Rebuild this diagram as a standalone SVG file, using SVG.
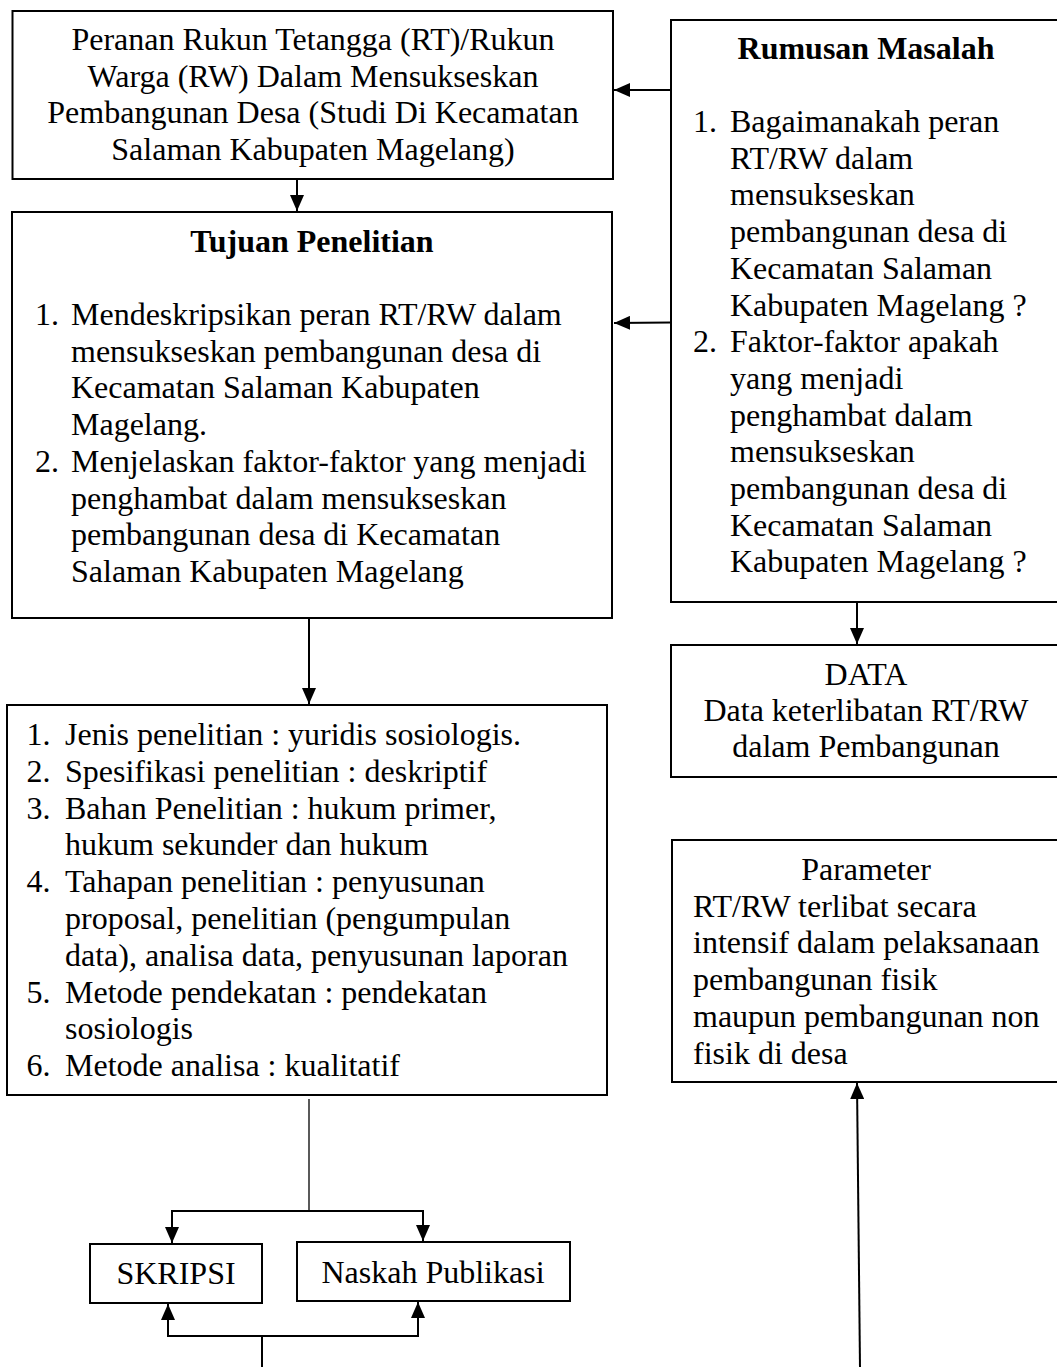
<svg xmlns="http://www.w3.org/2000/svg" width="1057" height="1367" viewBox="0 0 1057 1367">
<defs>
<style>
.box{fill:#fff;stroke:#000;stroke-width:2}
.t{font-family:"Liberation Serif","Times New Roman",serif;font-size:32px;fill:#000}
.c{text-anchor:middle}
.b{font-weight:bold}
.ln{fill:none;stroke:#000;stroke-width:2}
.thin{fill:none;stroke:#000;stroke-width:1.3}
</style>
<marker id="ah" markerUnits="userSpaceOnUse" markerWidth="16" markerHeight="14" refX="16" refY="7" orient="auto">
<path d="M0,0 L16,7 L0,14 z" fill="#000"/>
</marker>
</defs>
<rect width="1057" height="1367" fill="#fff"/>

<g id="judul">
<rect class="box" x="12.5" y="11" width="600.5" height="168"/>
<text class="t c" x="313" y="50">Peranan Rukun Tetangga (RT)/Rukun</text>
<text class="t c" x="313" y="86.5">Warga (RW) Dalam Mensukseskan</text>
<text class="t c" x="313" y="123">Pembangunan Desa (Studi Di Kecamatan</text>
<text class="t c" x="313" y="159.5">Salaman Kabupaten Magelang)</text>
</g>

<g id="tujuan">
<rect class="box" x="12" y="212" width="600" height="406"/>
<text class="t c b" x="312" y="252">Tujuan Penelitian</text>
<text class="t" x="35" y="325">1.</text>
<text class="t" x="71" y="325">Mendeskripsikan peran RT/RW dalam</text>
<text class="t" x="71" y="361.7">mensukseskan pembangunan desa di</text>
<text class="t" x="71" y="398.4">Kecamatan Salaman Kabupaten</text>
<text class="t" x="71" y="435.1">Magelang.</text>
<text class="t" x="35" y="471.8">2.</text>
<text class="t" x="71" y="471.8">Menjelaskan faktor-faktor yang menjadi</text>
<text class="t" x="71" y="508.5">penghambat dalam mensukseskan</text>
<text class="t" x="71" y="545.2">pembangunan desa di Kecamatan</text>
<text class="t" x="71" y="581.9">Salaman Kabupaten Magelang</text>
</g>

<g id="rumusan">
<rect class="box" x="671" y="20" width="392" height="582"/>
<text class="t c b" x="866" y="59">Rumusan Masalah</text>
<text class="t" x="693" y="132">1.</text>
<text class="t" x="730" y="132">Bagaimanakah peran</text>
<text class="t" x="730" y="168.7">RT/RW dalam</text>
<text class="t" x="730" y="205.4">mensukseskan</text>
<text class="t" x="730" y="242.1">pembangunan desa di</text>
<text class="t" x="730" y="278.8">Kecamatan Salaman</text>
<text class="t" x="730" y="315.5">Kabupaten Magelang ?</text>
<text class="t" x="693" y="352.2">2.</text>
<text class="t" x="730" y="352.2">Faktor-faktor apakah</text>
<text class="t" x="730" y="388.9">yang menjadi</text>
<text class="t" x="730" y="425.6">penghambat dalam</text>
<text class="t" x="730" y="462.3">mensukseskan</text>
<text class="t" x="730" y="499">pembangunan desa di</text>
<text class="t" x="730" y="535.7">Kecamatan Salaman</text>
<text class="t" x="730" y="572.4">Kabupaten Magelang ?</text>
</g>

<g id="data">
<rect class="box" x="671" y="645" width="392" height="132"/>
<text class="t c" x="866" y="685">DATA</text>
<text class="t c" x="866" y="721">Data keterlibatan RT/RW</text>
<text class="t c" x="866" y="757">dalam Pembangunan</text>
</g>

<g id="metode">
<rect class="box" x="7" y="705" width="600" height="390"/>
<text class="t" x="26.5" y="745">1.</text>
<text class="t" x="65" y="745">Jenis penelitian : yuridis sosiologis.</text>
<text class="t" x="26.5" y="781.8">2.</text>
<text class="t" x="65" y="781.8">Spesifikasi penelitian : deskriptif</text>
<text class="t" x="26.5" y="818.6">3.</text>
<text class="t" x="65" y="818.6">Bahan Penelitian : hukum primer,</text>
<text class="t" x="65" y="855.4">hukum sekunder dan hukum</text>
<text class="t" x="26.5" y="892.2">4.</text>
<text class="t" x="65" y="892.2">Tahapan penelitian : penyusunan</text>
<text class="t" x="65" y="929">proposal, penelitian (pengumpulan</text>
<text class="t" x="65" y="965.8">data), analisa data, penyusunan laporan</text>
<text class="t" x="26.5" y="1002.6">5.</text>
<text class="t" x="65" y="1002.6">Metode pendekatan : pendekatan</text>
<text class="t" x="65" y="1039.4">sosiologis</text>
<text class="t" x="26.5" y="1076.2">6.</text>
<text class="t" x="65" y="1076.2">Metode analisa : kualitatif</text>
</g>

<g id="parameter">
<rect class="box" x="672" y="840" width="391" height="242"/>
<text class="t c" x="866" y="880">Parameter</text>
<text class="t" x="693" y="916.7">RT/RW terlibat secara</text>
<text class="t" x="693" y="953.4">intensif dalam pelaksanaan</text>
<text class="t" x="693" y="990.1">pembangunan fisik</text>
<text class="t" x="693" y="1026.8">maupun pembangunan non</text>
<text class="t" x="693" y="1063.5">fisik di desa</text>
</g>

<g id="skripsi">
<rect class="box" x="90" y="1244" width="172" height="59"/>
<text class="t c" x="176" y="1284">SKRIPSI</text>
</g>

<g id="naskah">
<rect class="box" x="297" y="1242" width="273" height="59"/>
<text class="t c" x="433" y="1283">Naskah Publikasi</text>
</g>

<g id="connectors">
<line class="ln" x1="671" y1="90" x2="614" y2="90" marker-end="url(#ah)"/>
<line class="ln" x1="671" y1="322.5" x2="614" y2="323" marker-end="url(#ah)"/>
<line class="ln" x1="297" y1="179" x2="297" y2="211" marker-end="url(#ah)"/>
<line class="ln" x1="309" y1="618" x2="309" y2="704" marker-end="url(#ah)"/>
<line class="ln" x1="857" y1="602" x2="857" y2="644" marker-end="url(#ah)"/>
<line class="thin" x1="309" y1="1099" x2="309" y2="1211"/>
<line class="ln" x1="171" y1="1211" x2="424" y2="1211"/>
<line class="ln" x1="172" y1="1211" x2="172" y2="1243" marker-end="url(#ah)"/>
<line class="ln" x1="423" y1="1211" x2="423" y2="1241" marker-end="url(#ah)"/>
<line class="ln" x1="262" y1="1367" x2="262" y2="1336"/>
<line class="ln" x1="167" y1="1336" x2="419" y2="1336"/>
<line class="ln" x1="168" y1="1336" x2="168" y2="1304" marker-end="url(#ah)"/>
<line class="ln" x1="418" y1="1336" x2="418" y2="1302" marker-end="url(#ah)"/>
<line class="ln" x1="860" y1="1367" x2="857" y2="1083" marker-end="url(#ah)"/>
</g>
</svg>
